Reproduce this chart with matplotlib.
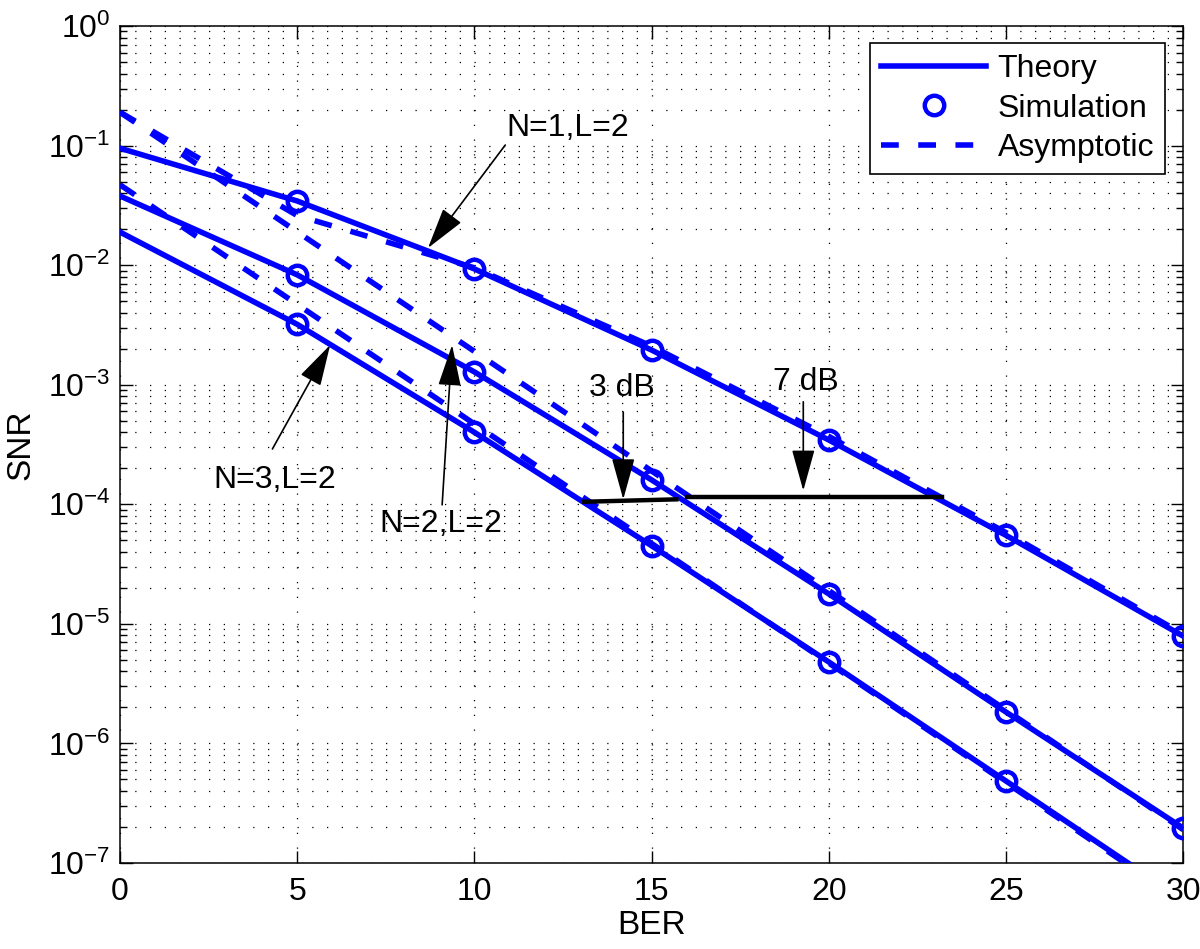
import matplotlib
matplotlib.use("Agg")
import matplotlib.pyplot as plt
from matplotlib.lines import Line2D

plt.rcParams['font.family'] = ['Liberation Sans', 'DejaVu Sans']
plt.rcParams['mathtext.fontset'] = 'custom'
plt.rcParams['mathtext.rm'] = 'Liberation Sans'
plt.rcParams['mathtext.it'] = 'Liberation Sans'

# x axis values (dB)
snr = [0, 5, 10, 15, 20, 25, 30]

# theory curves
theory_n1 = [0.095, 0.0344, 0.0093, 0.00195, 3.45e-4, 5.5e-5, 7.9e-6]
theory_n2 = [0.0379, 0.0083, 0.00128, 1.6e-4, 1.78e-5, 1.83e-6, 1.96e-7]
theory_n3 = [0.0189, 0.0032, 4.0e-4, 4.5e-5, 4.8e-6, 4.85e-7, 4.9e-8]

# simulation points
sim_snr = [5, 10, 15, 20, 25, 30]
sim_n1 = [0.0344, 0.0093, 0.00195, 3.45e-4, 5.5e-5, 7.9e-6]
sim_n2 = [0.0083, 0.00128, 1.6e-4, 1.78e-5, 1.83e-6, 1.96e-7]
sim_snr_n3 = [5, 10, 15, 20, 25]
sim_n3 = [0.0032, 4.0e-4, 4.5e-5, 4.8e-6, 4.85e-7]

# asymptotic curves
asym_n1 = [0.19, 0.026, 0.0095, 0.0021, 3.7e-4, 5.8e-5, 8.2e-6]
asym_n2 = [0.19, 0.019, 0.0019, 1.9e-4, 1.9e-5, 1.9e-6, 1.9e-7]
asym_n3 = [0.047, 0.0047, 4.7e-4, 4.7e-5, 4.7e-6, 4.7e-7, 4.7e-8]

# black gap markers (3 dB / 7 dB)
gap1_x = [13.1, 15.7]
gap1_y = [1.05e-4, 1.1e-4]
gap2_x = [16.0, 23.2]
gap2_y = [1.15e-4, 1.15e-4]

blue = (0, 0, 1)
fs = 23

fig = plt.figure(figsize=(12, 9.49), dpi=100)
ax = fig.add_axes([0.1, 0.0906, 0.886, 0.882])

lw = 4
dash = (0, (3.2, 3.5))
for th in (theory_n1, theory_n2, theory_n3):
    ax.plot(snr, th, '-', color=blue, lw=lw, zorder=3)
for asy in (asym_n1, asym_n2, asym_n3):
    ax.plot(snr, asy, linestyle=dash, color=blue, lw=lw, zorder=3)
for xs, ys in ((sim_snr, sim_n1), (sim_snr, sim_n2), (sim_snr_n3, sim_n3)):
    ax.plot(xs, ys, 'o', color=blue, ms=14, mew=3.2, mfc='none', zorder=4)

ax.plot(gap1_x, gap1_y, '-', color='k', lw=3.2, zorder=5)
ax.plot(gap2_x, gap2_y, '-', color='k', lw=3.2, zorder=5)

ax.set_yscale('log')
ax.set_xlim(0, 30)
ax.set_ylim(1e-7, 1)
ax.set_xticks(snr)
ax.set_yticks([10.0 ** -k for k in range(7, -1, -1)])

# MATLAB style dotted grid
grid_ls = (0, (1, 10.8))
ax.grid(True, which='major', axis='both', color='k', linestyle=grid_ls, lw=0.9)
ax.grid(True, which='minor', axis='y', color='k', linestyle=grid_ls, lw=0.9)
ax.set_axisbelow(True)

ax.tick_params(which='both', direction='in', top=True, right=True, labelsize=fs)
ax.tick_params(which='major', length=9, width=1.0)
ax.tick_params(which='minor', length=5, width=1.0)
ax.tick_params(axis='x', which='major', pad=10)
ax.tick_params(axis='y', which='major', pad=7)
for sp in ax.spines.values():
    sp.set_linewidth(1.1)

ax.set_xlabel('BER', fontsize=fs + 1, labelpad=2)
ax.set_ylabel('SNR', fontsize=fs + 1, labelpad=8)

# annotations
arrow = dict(arrowstyle='-|>,head_length=1.3,head_width=0.36', color='k', lw=1.2,
             mutation_scale=20, shrinkA=0, shrinkB=0)
ax.annotate('', xy=(8.69, 0.0139), xytext=(10.87, 0.101), arrowprops=arrow)
ax.text(12.64, 0.14, 'N=1,L=2', fontsize=fs, ha='center', va='center')

ax.annotate('', xy=(5.93, 2.15e-3), xytext=(4.3, 2.9e-4), arrowprops=arrow)
ax.text(4.37, 1.6e-4, 'N=3,L=2', fontsize=fs, ha='center', va='center')

ax.annotate('', xy=(9.37, 2.15e-3), xytext=(9.09, 9.9e-5), arrowprops=arrow)
ax.text(9.06, 6.8e-5, 'N=2,L=2', fontsize=fs, ha='center', va='center')

ax.annotate('', xy=(14.2, 1.1e-4), xytext=(14.2, 5.9e-4), arrowprops=arrow)
ax.text(14.17, 9.4e-4, '3 dB', fontsize=fs, ha='center', va='center')

ax.annotate('', xy=(19.28, 1.3e-4), xytext=(19.28, 7.2e-4), arrowprops=arrow)
ax.text(19.36, 1.05e-3, '7 dB', fontsize=fs, ha='center', va='center')

handles = [
    Line2D([], [], color=blue, lw=lw, linestyle='-'),
    Line2D([], [], color=blue, marker='o', ms=14, mew=3.2, mfc='none', linestyle='none'),
    Line2D([], [], color=blue, lw=lw, linestyle=dash),
]
leg = ax.legend(handles, ['Theory', 'Simulation', 'Asymptotic'], loc='upper right',
                bbox_to_anchor=(0.983, 0.98), borderaxespad=0, fontsize=fs,
                handlelength=3.3, handletextpad=0.35, labelspacing=0.3,
                borderpad=0.35, fancybox=False, framealpha=1, edgecolor='k')
leg.get_frame().set_linewidth(1.2)

fig.savefig('out.png', dpi=100)
